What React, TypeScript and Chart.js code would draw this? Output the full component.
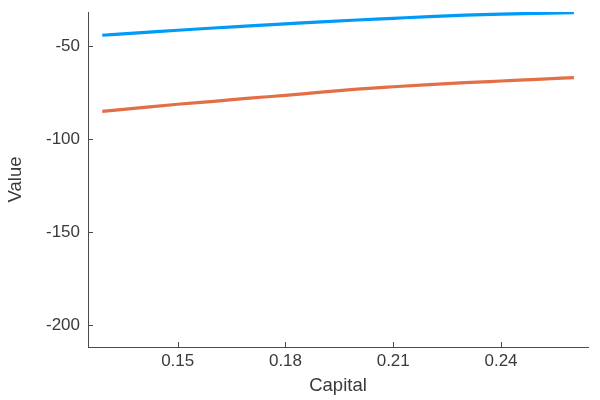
import React, { useEffect, useRef } from "react";
import { Chart, registerables } from "chart.js";

Chart.register(...registerables);

const capital = [0.129, 0.14, 0.15, 0.16, 0.17, 0.18, 0.19, 0.2, 0.21, 0.22, 0.23, 0.24, 0.25, 0.2603];
const valueBlue = [-44.2, -42.8, -41.5, -40.3, -39.2, -38.1, -37.0, -36.0, -35.1, -34.2, -33.4, -32.8, -32.4, -32.1];
const valueOrange = [-85.1, -83.1, -81.3, -79.7, -78.0, -76.5, -74.8, -73.2, -71.9, -70.7, -69.7, -68.8, -67.9, -67.0];
const xTicks = [0.15, 0.18, 0.21, 0.24];
const yTicks = [-200, -150, -100, -50];
const xLabel = "Capital";
const yLabel = "Value";

const FONT = "'Liberation Sans', Arial, Helvetica, sans-serif";
const TEXT = "#3a3a3a";
const AXIS = "#4a4a4a";

const inwardTicks = {
  id: "inwardTicks",
  afterDraw(chart: any) {
    const { ctx, chartArea, scales } = chart;
    ctx.save();
    ctx.strokeStyle = AXIS;
    ctx.lineWidth = 1;
    ctx.beginPath();
    for (const t of scales.x.ticks) {
      const px = Math.round(scales.x.getPixelForValue(t.value)) + 0.5;
      ctx.moveTo(px, chartArea.bottom);
      ctx.lineTo(px, chartArea.bottom - 5);
    }
    for (const t of scales.y.ticks) {
      const py = Math.round(scales.y.getPixelForValue(t.value)) + 0.5;
      ctx.moveTo(chartArea.left, py);
      ctx.lineTo(chartArea.left + 5, py);
    }
    ctx.stroke();
    ctx.restore();
  },
};

export default function App() {
  const ref = useRef<HTMLCanvasElement>(null);
  useEffect(() => {
    if (!ref.current) return;
    const chart = new Chart(ref.current, {
      type: "line",
      data: {
        datasets: [
          {
            data: capital.map((x, i) => ({ x, y: valueBlue[i] })),
            borderColor: "#009AFA",
            borderWidth: 3.2,
            pointRadius: 0,
            cubicInterpolationMode: "monotone",
          },
          {
            data: capital.map((x, i) => ({ x, y: valueOrange[i] })),
            borderColor: "#E36F47",
            borderWidth: 3.2,
            pointRadius: 0,
            cubicInterpolationMode: "monotone",
          },
        ],
      },
      options: {
        animation: false,
        responsive: false,
        layout: { padding: { top: 12, right: 12, left: 0, bottom: 0 } },
        plugins: { legend: { display: false }, tooltip: { enabled: false } },
        scales: {
          x: {
            type: "linear",
            min: 0.12503,
            max: 0.26422,
            afterBuildTicks: (s: any) => {
              s.ticks = xTicks.map((v) => ({ value: v }));
            },
            afterFit: (s: any) => {
              s.height = 53;
              s.paddingLeft = 0;
              s.paddingRight = 0;
            },
            ticks: {
              callback: (v: any) => Number(v).toFixed(2),
              color: TEXT,
              font: { family: FONT, size: 17 },
              padding: 4,
              maxRotation: 0,
            },
            grid: { display: true, drawOnChartArea: false, drawTicks: false },
            border: { display: true, color: AXIS, width: 1 },
            title: {
              display: true,
              text: xLabel,
              color: TEXT,
              font: { family: FONT, size: 18.5 },
              padding: { top: 0, bottom: 3 },
            },
          },
          y: {
            type: "linear",
            min: -211.8,
            max: -31.7,
            afterBuildTicks: (s: any) => {
              s.ticks = yTicks.map((v) => ({ value: v }));
            },
            afterFit: (s: any) => {
              s.width = 88;
              s.paddingTop = 0;
              s.paddingBottom = 0;
            },
            ticks: {
              callback: (v: any) => String(v),
              color: TEXT,
              font: { family: FONT, size: 17 },
              padding: 8,
            },
            grid: { display: true, drawOnChartArea: false, drawTicks: false },
            border: { display: true, color: AXIS, width: 1 },
            title: {
              display: true,
              text: yLabel,
              color: TEXT,
              font: { family: FONT, size: 18.5 },
              padding: { top: 5, bottom: 0 },
            },
          },
        },
      },
      plugins: [inwardTicks],
    } as any);
    return () => chart.destroy();
  }, []);
  return (
    <div style={{ position: "fixed", left: 0, top: 0, width: 600, height: 400, background: "#fff" }}>
      <canvas ref={ref} width={600} height={400} />
    </div>
  );
}
